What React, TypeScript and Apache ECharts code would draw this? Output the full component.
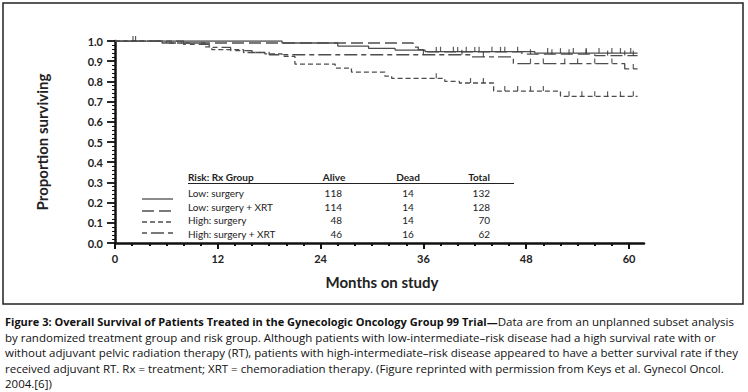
import React, { useEffect, useRef } from 'react';
import * as echarts from 'echarts';

// ---- axis ticks ----
const monthTicks = [0, 12, 24, 36, 48, 60];
const minorMonthTicks = [2, 4, 6, 8, 10, 14, 16, 18, 20, 22, 26, 28, 30, 32, 34, 38, 40, 42, 44, 46, 50, 52, 54, 56, 58];

// ---- legend table ----
const groups = ['Low: surgery', 'Low: surgery + XRT', 'High: surgery', 'High: surgery + XRT'];
const alive = [118, 114, 48, 46];
const dead = [14, 14, 14, 16];
const total = [132, 128, 70, 62];

// ---- Kaplan-Meier steps (month at which survival becomes value) ----
const lowSurgeryMonths = [0, 19.5, 26, 29.6, 32.7, 36.2, 49, 61];
const lowSurgerySurv = [1, 0.99, 0.975, 0.963, 0.955, 0.947, 0.94, 0.94];
const lowSurgeryCensor = [2.1, 2.4, 38, 39.5, 41, 42.5, 44, 45.5, 47, 50.5, 52, 53.5, 55, 56.5, 58, 59, 60.2];

const lowXrtMonths = [0, 6, 34.8, 35.4, 36, 47.5, 56, 61];
const lowXrtSurv = [1, 0.99, 0.97, 0.957, 0.946, 0.935, 0.928, 0.928];
const lowXrtCensor = [37.5, 40, 42, 45, 48.5, 51, 53, 55, 57.5, 59.5, 60.5];

const highSurgeryMonths = [0, 5.5, 10.5, 11.3, 15, 17.5, 19.5, 21, 25.7, 27.6, 31.5, 32.3, 38.5, 40.2, 44.2, 52, 61];
const highSurgerySurv = [1, 0.99, 0.971, 0.957, 0.943, 0.936, 0.924, 0.886, 0.866, 0.846, 0.826, 0.815, 0.8, 0.792, 0.752, 0.726, 0.726];
const highSurgeryCensor = [37.5, 41.5, 43, 45.5, 47, 48.5, 50, 53, 54.5, 56, 57.5, 59, 60.5];

const highXrtMonths = [0, 8, 11, 13.5, 16, 18, 41.5, 46.5, 59.5, 61];
const highXrtSurv = [1, 0.984, 0.968, 0.952, 0.943, 0.932, 0.921, 0.888, 0.862, 0.862];
const highXrtCensor = [36, 40.5, 43, 48.5, 50, 52.5, 54, 56, 58, 60.5];

// ---- caption ----
const captionBold = 'Figure 3: Overall Survival of Patients Treated in the Gynecologic Oncology Group 99 Trial\u2014';
const captionLines = [
  'Data are from an unplanned subset analysis',
  'by randomized treatment group and risk group. Although patients with low-intermediate\u2013risk disease had a high survival rate with or',
  'without adjuvant pelvic radiation therapy (RT), patients with high-intermediate\u2013risk disease appeared to have a better survival rate if they',
  'received adjuvant RT. Rx = treatment; XRT = chemoradiation therapy. (Figure reprinted with permission from Keys et al. Gynecol Oncol.',
  '2004.[6])',
];

const FONT = 'Lato, "Open Sans", sans-serif';
const CAPFONT = '"Open Sans", sans-serif';
const INK = '#222';
const LINE = '#4d4d4d';

const dashes: any[] = ['solid', [12, 5], [5, 3], [5, 4, 13, 4]];

function survAt(months: number[], surv: number[], m: number) {
  let v = surv[0];
  for (let i = 0; i < months.length; i++) if (months[i] <= m) v = surv[i];
  return v;
}

export default function App() {
  const ref = useRef<HTMLDivElement>(null);
  useEffect(() => {
    document.body.style.margin = '0';
    const chart = echarts.init(ref.current!, null, { renderer: 'svg' });

    const curves = [
      { m: lowSurgeryMonths, s: lowSurgerySurv, c: lowSurgeryCensor },
      { m: lowXrtMonths, s: lowXrtSurv, c: lowXrtCensor },
      { m: highSurgeryMonths, s: highSurgerySurv, c: highSurgeryCensor },
      { m: highXrtMonths, s: highXrtSurv, c: highXrtCensor },
    ];

    const series: any[] = [];
    curves.forEach((cv, i) => {
      series.push({
        type: 'line',
        name: groups[i],
        step: 'end',
        showSymbol: false,
        silent: true,
        data: cv.m.map((m, k) => [m, cv.s[k]]),
        lineStyle: { color: LINE, width: 1.3, type: dashes[i] },
        z: 2,
      });
      series.push({
        type: 'scatter',
        silent: true,
        symbol: 'rect',
        symbolSize: [1.2, 5],
        symbolOffset: [0, -2.5],
        itemStyle: { color: '#333' },
        data: cv.c.map((m) => [m, survAt(cv.m, cv.s, m)]),
        z: 3,
      });
    });

    const rowY = [193, 206.5, 220, 233.5];
    const sampleY = [199, 211, 222, 233];
    const g: any[] = [];
    g.push({
      type: 'rect',
      shape: { x: 3, y: 3, width: 740, height: 301 },
      style: { fill: 'none', stroke: INK, lineWidth: 1.5 },
    });
    g.push({
      type: 'text', x: 42, y: 142, rotation: Math.PI / 2,
      style: { text: 'Proportion surviving', font: `bold 15px ${FONT}`, fill: INK, align: 'center', verticalAlign: 'middle' },
    });
    g.push({
      type: 'text', x: 382, y: 282,
      style: { text: 'Months on study', font: `bold 15px ${FONT}`, fill: INK, align: 'center', verticalAlign: 'middle' },
    });
    // table header
    g.push({ type: 'text', x: 188, y: 177, style: { text: 'Risk: Rx Group', font: `bold 10px ${FONT}`, fill: INK, align: 'left', verticalAlign: 'middle' } });
    g.push({ type: 'text', x: 334, y: 177, style: { text: 'Alive', font: `bold 10px ${FONT}`, fill: INK, align: 'center', verticalAlign: 'middle' } });
    g.push({ type: 'text', x: 408, y: 177, style: { text: 'Dead', font: `bold 10px ${FONT}`, fill: INK, align: 'center', verticalAlign: 'middle' } });
    g.push({ type: 'text', x: 479, y: 177, style: { text: 'Total', font: `bold 10px ${FONT}`, fill: INK, align: 'center', verticalAlign: 'middle' } });
    g.push({ type: 'line', shape: { x1: 188, y1: 183.5, x2: 514, y2: 183.5 }, style: { stroke: INK, lineWidth: 1.2 } });
    groups.forEach((name, i) => {
      g.push({ type: 'line', shape: { x1: 142, y1: sampleY[i], x2: 173, y2: sampleY[i] }, style: { stroke: LINE, lineWidth: 1.3, lineDash: dashes[i] === 'solid' ? null : dashes[i] } });
      g.push({ type: 'text', x: 188, y: rowY[i], style: { text: name, font: `10px ${FONT}`, fill: INK, align: 'left', verticalAlign: 'middle' } });
      g.push({ type: 'text', x: 342, y: rowY[i], style: { text: String(alive[i]), font: `10px ${FONT}`, fill: INK, align: 'right', verticalAlign: 'middle' } });
      g.push({ type: 'text', x: 408, y: rowY[i], style: { text: String(dead[i]), font: `10px ${FONT}`, fill: INK, align: 'center', verticalAlign: 'middle' } });
      g.push({ type: 'text', x: 490, y: rowY[i], style: { text: String(total[i]), font: `10px ${FONT}`, fill: INK, align: 'right', verticalAlign: 'middle' } });
    });
    // caption
    g.push({
      type: 'text', x: 5, y: 321.5,
      style: {
        text: `{b|${captionBold}}{n|${captionLines[0]}}`,
        rich: {
          b: { font: `bold 11px ${CAPFONT}`, fill: '#111' },
          n: { font: `11.5px ${CAPFONT}`, fill: '#111' },
        },
        verticalAlign: 'middle', align: 'left',
      },
    });
    captionLines.slice(1).forEach((t, i) => {
      g.push({ type: 'text', x: 5, y: 337 + i * 15.5, style: { text: t, font: `11.5px ${CAPFONT}`, fill: '#111', align: 'left', verticalAlign: 'middle' } });
    });

    chart.setOption({
      animation: false,
      backgroundColor: '#fff',
      grid: { left: 115, top: 41, width: 529, height: 202, containLabel: false, outerBoundsMode: 'none' },
      xAxis: [
        {
          type: 'value', min: 0, max: 61.75, interval: 12,
          axisLine: { show: true, lineStyle: { color: '#111', width: 2.5 } },
          axisTick: { show: true, customValues: monthTicks, length: 6, lineStyle: { color: '#111', width: 2 } },
          axisLabel: { customValues: monthTicks, margin: 10, fontFamily: FONT, fontWeight: 'bold', fontSize: 11, color: INK },
          splitLine: { show: false },
        },
        {
          type: 'value', min: 0, max: 61.75, position: 'bottom',
          axisLine: { show: false },
          axisTick: { show: true, customValues: minorMonthTicks, length: 3, lineStyle: { color: '#111', width: 2 } },
          axisLabel: { show: false },
          splitLine: { show: false },
        },
      ],
      yAxis: {
        type: 'value', min: 0, max: 1, interval: 0.1,
        axisLine: { show: true, lineStyle: { color: '#111', width: 2.5 } },
        axisTick: { show: true, length: 8, lineStyle: { color: '#111', width: 1.8 } },
        minorTick: { show: true, splitNumber: 5, length: 3, lineStyle: { color: '#111', width: 1 } },
        axisLabel: { margin: 12, formatter: (v: number) => v.toFixed(1), fontFamily: FONT, fontWeight: 'bold', fontSize: 11, color: INK },
        splitLine: { show: false },
        minorSplitLine: { show: false },
      },
      series,
      graphic: g,
    });
    return () => chart.dispose();
  }, []);
  return <div ref={ref} style={{ position: 'absolute', left: 0, top: 0, width: 748, height: 392 }} />;
}
